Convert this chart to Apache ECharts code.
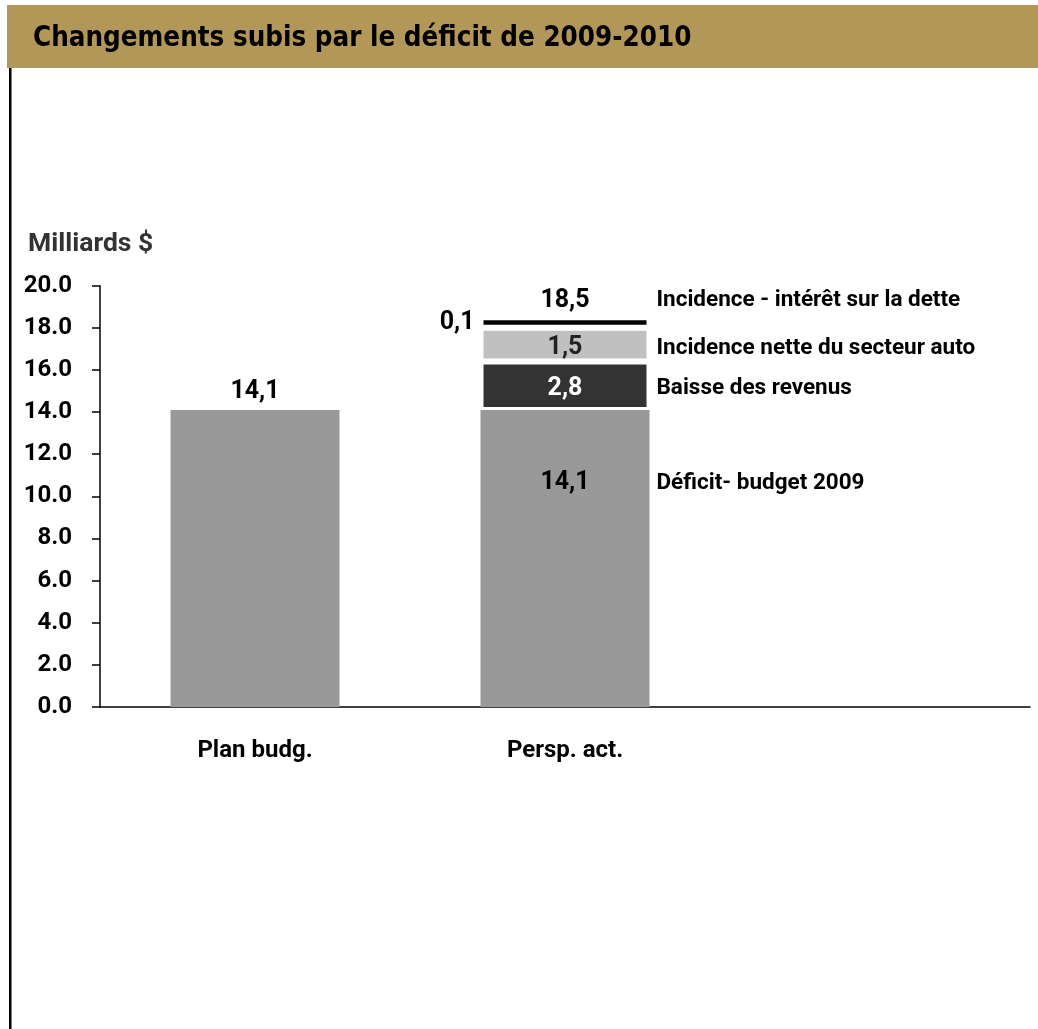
<!DOCTYPE html>
<html>
<head>
<meta charset="utf-8">
<script src="https://cdn.jsdelivr.net/npm/echarts@6/dist/echarts.min.js"></script>
<style>
  html, body { margin: 0; padding: 0; background: #fff; }
  #chart { width: 1038px; height: 1029px; }
</style>
</head>
<body>
<div id="chart"></div>
<script>
// categories (third slot is empty, as in the source chart)
const categories = ['Plan budg.', 'Persp. act.', '']
// drawn segment heights (Milliards $)
const deficitBudget = [14.1, 14.1, '-']
const revenueDrop = ['-', 2.3, '-']
const autoSector = ['-', 1.6, '-']
const debtInterest = ['-', 0.5, '-']
const totalSlot = ['-', 0, '-']
// printed labels
const segmentNames = ['Déficit- budget 2009', 'Baisse des revenus', 'Incidence nette du secteur auto', 'Incidence - intérêt sur la dette']
const segmentLabels = ['14,1', '2,8', '1,5', '0,1']
const planLabel = '14,1'
const totalLabel = '18,5'
const yTicks = { min: 0, max: 20, step: 2 }

const FONT = "Roboto, 'DejaVu Sans Condensed', sans-serif"
const TITLE_FONT = "'DejaVu Sans Condensed', sans-serif"
const BAR_W = 169

function sideRich(valColor) {
  return {
    v: { width: BAR_W, align: 'center', color: valColor, fontSize: 25, fontWeight: 'bold', fontFamily: FONT },
    g: { width: 7, align: 'center' },
    n: { align: 'center', color: '#000', fontSize: 22.5, fontWeight: 'bold', fontFamily: FONT }
  }
}

function segLabel(idx, valColor, dy) {
  return {
    show: true,
    position: [0, dy],
    align: 'left',
    verticalAlign: 'middle',
    formatter: '{v|' + segmentLabels[idx] + '}{g| }{n|' + segmentNames[idx] + '}',
    rich: sideRich(valColor)
  }
}

const chart = echarts.init(document.getElementById('chart'))
const stackBorder = { borderColor: '#fff', borderWidth: 3 }

const option = {
  animation: false,
  backgroundColor: '#fff',
  graphic: [
    { type: 'rect', left: 7, top: 5, shape: { width: 1031, height: 63 }, style: { fill: '#b39759' }, z: -1 },
    { type: 'rect', left: 9, top: 68, shape: { width: 2.5, height: 961 }, style: { fill: '#000' }, z: -1 }
  ],
  title: [
    {
      text: 'Changements subis par le déficit de 2009-2010',
      left: 28, top: 20,
      textStyle: { fontSize: 27.5, fontWeight: 'bold', color: '#000', fontFamily: TITLE_FONT }
    },
    {
      text: 'Milliards $',
      left: 23, top: 226,
      textStyle: { fontSize: 26.5, fontWeight: 'bold', color: '#333', fontFamily: FONT }
    }
  ],
  grid: { left: 100, right: 8, top: 285.7, bottom: 322 },
  xAxis: {
    type: 'category',
    data: categories,
    axisTick: { show: false },
    axisLine: { lineStyle: { color: '#000', width: 1.5 } },
    axisLabel: { margin: 32, fontSize: 24, fontWeight: 'bold', color: '#000', fontFamily: FONT }
  },
  yAxis: {
    type: 'value',
    min: yTicks.min, max: yTicks.max, interval: yTicks.step,
    splitLine: { show: false },
    axisLine: { show: true, lineStyle: { color: '#000', width: 1.5 } },
    axisTick: { show: true, length: 8, lineStyle: { color: '#000', width: 1.5 } },
    axisLabel: {
      margin: 28, fontSize: 24, fontWeight: 'bold', color: '#000', fontFamily: FONT,
      formatter: v => v.toFixed(1)
    }
  },
  series: [
    {
      name: segmentNames[0], type: 'bar', stack: 'd', barWidth: BAR_W,
      itemStyle: { color: '#999999' },
      data: deficitBudget.map((v, i) => {
        if (i === 0) {
          return { value: v, label: { show: true, position: 'top', distance: 6, formatter: planLabel,
            fontSize: 25, fontWeight: 'bold', color: '#000', fontFamily: FONT } }
        }
        if (i === 1) {
          return { value: v, label: segLabel(0, '#000', 73) }
        }
        return v
      })
    },
    {
      name: segmentNames[1], type: 'bar', stack: 'd', barWidth: BAR_W,
      itemStyle: Object.assign({ color: '#333333' }, stackBorder),
      label: segLabel(1, '#fff', '56%'),
      data: revenueDrop
    },
    {
      name: segmentNames[2], type: 'bar', stack: 'd', barWidth: BAR_W,
      itemStyle: Object.assign({ color: '#c0c0c0' }, stackBorder),
      label: segLabel(2, '#222', '60%'),
      data: autoSector
    },
    {
      name: segmentNames[3], type: 'bar', stack: 'd', barWidth: BAR_W,
      itemStyle: Object.assign({ color: '#000' }, stackBorder),
      label: {
        show: true, position: 'left', distance: 6, formatter: segmentLabels[3],
        fontSize: 25, fontWeight: 'bold', color: '#000', fontFamily: FONT
      },
      data: debtInterest
    },
    {
      name: 'total', type: 'bar', stack: 'd', barWidth: BAR_W,
      itemStyle: { color: 'transparent' },
      label: {
        show: true, position: [0, -17], align: 'left', verticalAlign: 'middle',
        formatter: '{v|' + totalLabel + '}{g| }{n|' + segmentNames[3] + '}',
        rich: sideRich('#000')
      },
      data: totalSlot
    }
  ]
}
chart.setOption(option)
</script>
</body>
</html>
